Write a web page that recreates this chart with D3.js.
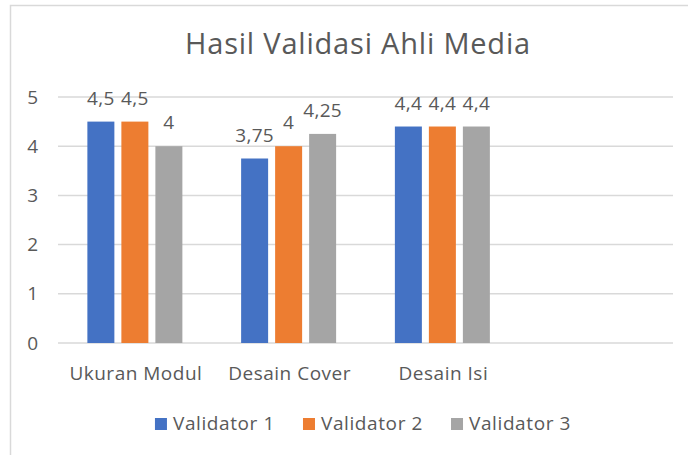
<!DOCTYPE html>
<html>
<head>
<meta charset="utf-8">
<script src="https://cdn.jsdelivr.net/npm/d3@7"></script>
<style>
  body { margin: 0; background: #fff; }
  svg { display: block; font-family: "Open Sans", "Noto Sans", sans-serif; }
</style>
</head>
<body>
<svg id="chart" width="688" height="455"></svg>
<script>
// Chart data
let categories = ['Ukuran Modul', 'Desain Cover', 'Desain Isi', ''];
let seriesNames = ['Validator 1', 'Validator 2', 'Validator 3'];
let validator1 = [4.5, 3.75, 4.4];
let validator2 = [4.5, 4, 4.4];
let validator3 = [4, 4.25, 4.4];
let yTicks = [0, 1, 2, 3, 4, 5];
let colors = ['#4472C4', '#ED7D31', '#A5A5A5'];

let seriesValues = [validator1, validator2, validator3];

let svg = d3.select('#chart');
let textColor = '#595959';

// Outer frame (left and top edges)
svg.append('path')
    .attr('d', 'M10.5,455 L10.5,5.5 L688,5.5')
    .attr('fill', 'none')
    .attr('stroke', '#d9d9d9')
    .attr('stroke-width', 1.5);

// Title
svg.append('text')
    .attr('x', 358)
    .attr('y', 54)
    .attr('text-anchor', 'middle')
    .attr('fill', textColor)
    .style('font-size', '29px')
    .style('letter-spacing', '0.8px')
    .text('Hasil Validasi Ahli Media');

// Scales
let x = d3.scaleBand()
    .domain(categories)
    .range([58, 673]);

let xInner = d3.scaleBand()
    .domain(seriesNames)
    .range([-47.5, 47.5])
    .paddingInner(0.206);

let y = d3.scaleLinear()
    .domain([0, 5])
    .range([343, 97]);

// Gridlines
svg.append('g')
    .selectAll('line')
    .data(yTicks)
    .enter()
    .append('line')
    .attr('x1', 58)
    .attr('x2', 673)
    .attr('y1', (d) => y(d))
    .attr('y2', (d) => y(d))
    .attr('stroke', '#d9d9d9')
    .attr('stroke-width', 1.5);

// Y tick labels
svg.append('g')
    .selectAll('text')
    .data(yTicks)
    .enter()
    .append('text')
    .attr('x', 38)
    .attr('y', (d) => y(d) + 6.5)
    .attr('text-anchor', 'end')
    .attr('fill', textColor)
    .style('font-size', '19px')
    .text((d) => d);

// Bars and data labels
let barData = [];
seriesNames.forEach((name, si) => {
    seriesValues[si].forEach((v, ci) => {
        barData.push({ series: name, si: si, category: categories[ci], value: v });
    });
});

let groups = svg.append('g');

groups.selectAll('rect')
    .data(barData)
    .enter()
    .append('rect')
    .attr('x', (d) => x(d.category) + x.bandwidth() / 2 + xInner(d.series))
    .attr('y', (d) => y(d.value))
    .attr('width', xInner.bandwidth())
    .attr('height', (d) => y(0) - y(d.value))
    .attr('fill', (d) => colors[d.si]);

groups.selectAll('text')
    .data(barData)
    .enter()
    .append('text')
    .attr('x', (d) => x(d.category) + x.bandwidth() / 2 + xInner(d.series) + xInner.bandwidth() / 2)
    .attr('y', (d) => y(d.value) - 17)
    .attr('text-anchor', 'middle')
    .attr('fill', textColor)
    .style('font-size', '19px')
    .style('letter-spacing', '0.3px')
    .text((d) => String(d.value).replace('.', ','));

// X category labels
svg.append('g')
    .selectAll('text')
    .data(categories)
    .enter()
    .append('text')
    .attr('x', (d) => x(d) + x.bandwidth() / 2 + 1)
    .attr('y', 380)
    .attr('text-anchor', 'middle')
    .attr('fill', textColor)
    .style('font-size', '19px')
    .style('letter-spacing', '0.5px')
    .text((d) => d);

// Legend
let legend = svg.append('g');
let cursor = 0;
seriesNames.forEach((name, i) => {
    let item = legend.append('g').attr('transform', `translate(${cursor},0)`);
    item.append('rect')
        .attr('x', 0)
        .attr('y', 418)
        .attr('width', 12)
        .attr('height', 12)
        .attr('fill', colors[i]);
    let t = item.append('text')
        .attr('x', 18)
        .attr('y', 430)
        .attr('fill', textColor)
        .style('font-size', '19px')
        .style('letter-spacing', '0.6px')
        .text(name);
    cursor += 18 + t.node().getComputedTextLength() + 28;
});
let legendWidth = cursor - 28;
legend.attr('transform', `translate(${363 - legendWidth / 2},0)`);
</script>
</body>
</html>
